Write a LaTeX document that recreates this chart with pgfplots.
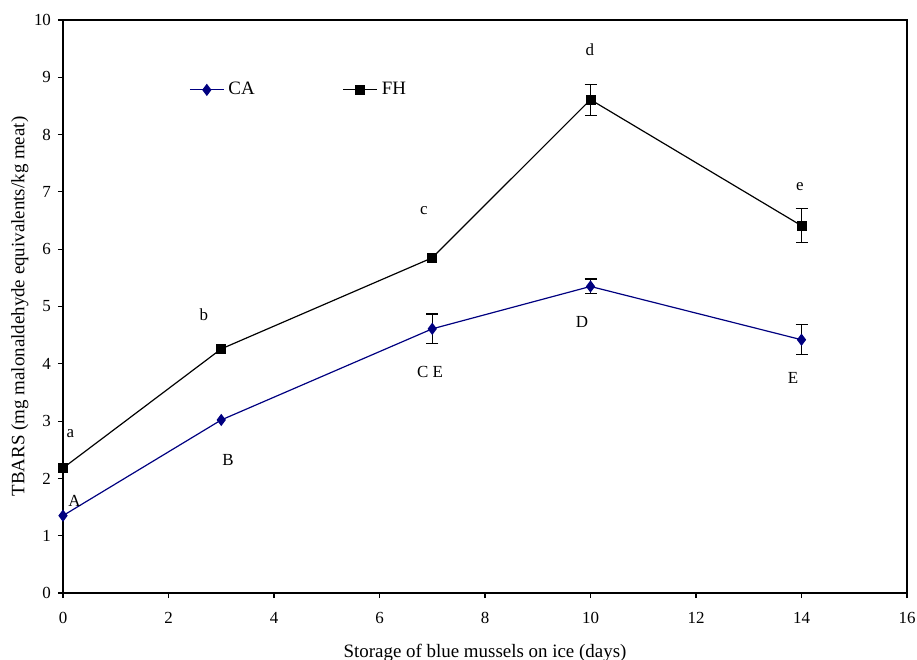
\documentclass[border=0pt]{standalone}
\usepackage{pgfplots}
\pgfplotsset{compat=1.18}
\usepackage{fontspec}
\setmainfont{Liberation Serif}
\definecolor{caBlue}{RGB}{0,0,128}
\begin{document}
\begin{tikzpicture}
\begin{axis}[
    scale only axis,
    width=422bp, height=286.5bp,
    xmin=0, xmax=16, ymin=0, ymax=10,
    xtick={0,2,...,16}, ytick={0,1,...,10},
    xtick pos=bottom, ytick pos=left,
    tick align=outside,
    major tick length=2.5bp,
    tick style={black, line width=0.6pt},
    axis line style={line width=0.6pt},
    /pgf/number format/assume math mode=true,
    tick label style={font=\fontsize{8.5}{10}\selectfont},
    xticklabel style={yshift=-3.5bp},
    label style={font=\fontsize{9.5}{11}\selectfont},
    xlabel={Storage of blue mussels on ice (days)},
    ylabel={TBARS (mg malonaldehyde equivalents/kg meat)},
    xlabel style={yshift=-3.5bp},
    ylabel style={yshift=-4bp},
    legend columns=2,
    legend style={draw=none, at={(0.142,0.878)}, anchor=west,
        font=\fontsize{9.5}{11}\selectfont, fill=none},
    /tikz/every even column/.append style={column sep=42bp},
]
\coordinate (bl) at (rel axis cs:0,0);
\coordinate (tr) at (rel axis cs:1,1);
% error bars
\addplot[forget plot, draw=none, mark=none,
    error bars/.cd, y dir=both, y explicit,
    error bar style={black, line width=0.6pt},
    error mark options={rotate=90, black, mark size=3bp, line width=0.6pt}]
coordinates {
    (7,4.61) +- (0,0.26)
    (10,5.35) +- (0,0.13)
    (14,4.42) +- (0,0.26)
    (10,8.61) +- (0,0.27)
    (14,6.41) +- (0,0.30)
};
\addplot[color=caBlue, line width=0.6pt, mark=diamond*,
    mark size=2.6bp, mark options={fill=caBlue}]
coordinates {
    (0,1.35)(3,3.02)(7,4.61)(10,5.35)(14,4.42)
};
\addplot[color=black, line width=0.6pt, mark=square*,
    mark size=2.2bp]
coordinates {
    (0,2.18)(3,4.26)(7,5.85)(10,8.61)(14,6.41)
};
\legend{CA,FH}
\begin{scope}[every node/.style={font=\fontsize{8.5}{10}\selectfont}]
\node at (axis cs:0.14,2.79) {a};
\node at (axis cs:0.22,1.6) {A};
\node at (axis cs:2.67,4.85) {b};
\node at (axis cs:3.13,2.32) {B};
\node at (axis cs:6.84,6.68) {c};
\node at (axis cs:6.96,3.86) {C E};
\node at (axis cs:9.99,9.48) {d};
\node at (axis cs:9.84,4.73) {D};
\node at (axis cs:13.97,7.1) {e};
\node at (axis cs:13.84,3.75) {E};
\end{scope}
\end{axis}
\pgfresetboundingbox
\path ([shift={(-31.5bp,-33.5bp)}]bl) rectangle ([shift={(5bp,10bp)}]tr);
\end{tikzpicture}
\end{document}
